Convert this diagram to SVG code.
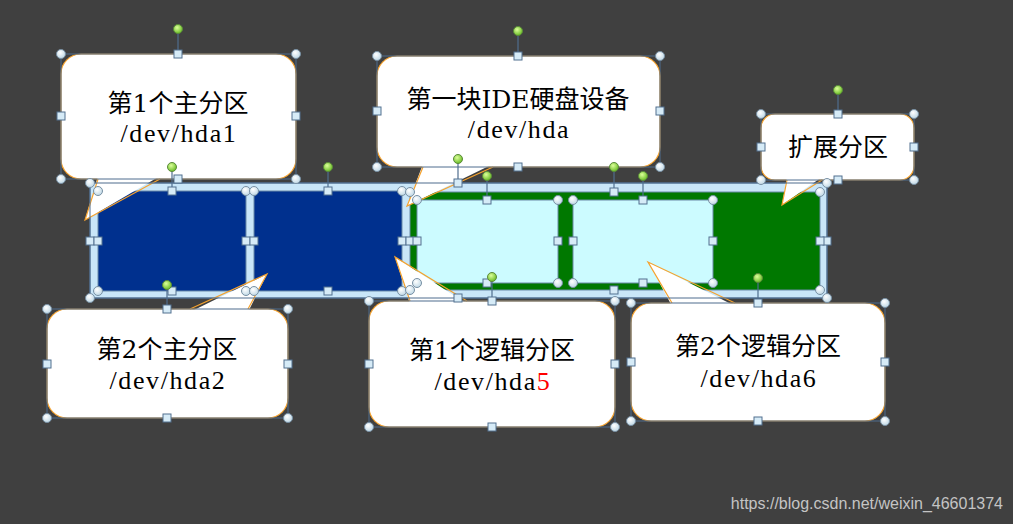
<svg xmlns="http://www.w3.org/2000/svg" width="1013" height="524" viewBox="0 0 1013 524">
<style>
.cb{fill:#fff;stroke:#f5a22e;stroke-width:1.2}
.pf{fill:#fff;stroke:none}
.ps{fill:none;stroke:#f5a22e;stroke-width:1.2;stroke-linejoin:miter}
.sel{fill:none;stroke:#4f6d8e;stroke-width:1}
.stem{stroke:#4f6d8e;stroke-width:1.2}
.t1{font-family:"DejaVu Serif","Noto Sans CJK SC",serif;font-size:25px;fill:#000;text-anchor:middle}
.t2{font-family:"Liberation Serif","Noto Sans CJK SC",serif;font-size:26px;fill:#000;text-anchor:middle;letter-spacing:1.6px}
.wm{font-family:"Liberation Sans",Arial,sans-serif;font-size:16px;fill:#c4c4c4;text-anchor:end}
</style>
<defs>
<radialGradient id="gc" cx="40%" cy="35%" r="70%"><stop offset="0" stop-color="#ffffff"/><stop offset="1" stop-color="#bcd6e4"/></radialGradient>
<radialGradient id="gg" cx="40%" cy="35%" r="70%"><stop offset="0" stop-color="#dcff9a"/><stop offset="1" stop-color="#62b81e"/></radialGradient>
<circle id="hc" r="4.5" fill="url(#gc)" stroke="#7890a4" stroke-width="1"/>
<rect id="hs" x="-4" y="-4" width="8" height="8" fill="#d6ebf7" stroke="#52718f" stroke-width="1"/>
<circle id="hg" r="4.5" fill="url(#gg)" stroke="#5a8a3a" stroke-width="1"/>
</defs>
<rect x="0" y="0" width="1013" height="524" fill="#404040"/>

<g id="disk-bar">
<rect x="90" y="183" width="737" height="115" fill="#c9e6f8" stroke="#5b7b9b" stroke-width="1"/>
<rect id="primary1" x="98" y="191" width="148" height="100" fill="#00308e" stroke="#6a8aa8" stroke-width="1"/>
<rect id="primary2" x="254" y="191" width="148" height="100" fill="#00308e" stroke="#6a8aa8" stroke-width="1"/>
<rect id="extended" x="410" y="192" width="410" height="98" fill="#007800" stroke="#6a8aa8" stroke-width="1"/>
<rect id="logical1" x="417" y="200" width="141" height="83" fill="#ccfbff" stroke="#6a8aa8" stroke-width="1"/>
<rect id="logical2" x="573" y="200" width="140" height="83" fill="#ccfbff" stroke="#6a8aa8" stroke-width="1"/>
</g>

<g id="connectors"></g>

<g id="callout-hda1">
<rect class="cb" x="61" y="54" width="235" height="125" rx="20"/>
<polygon class="pf" points="98,176 160,176 85,220"/>
<polyline class="ps" points="98,179 85,220 160,179"/>
<text class="t1" x="178" y="112">第1个主分区</text>
<text class="t2" x="179" y="142">/dev/hda1</text>
</g>

<g id="callout-hda">
<rect class="cb" x="377" y="56" width="283" height="111" rx="20"/>
<polygon class="pf" points="423,164 493,164 407,206"/>
<polyline class="ps" points="423,167 407,206 493,167"/>
<text class="t1" x="518" y="108">第一块IDE硬盘设备</text>
<text class="t2" x="519" y="138">/dev/hda</text>
</g>

<g id="callout-extended">
<rect class="cb" x="761" y="114" width="153" height="66" rx="14"/>
<polygon class="pf" points="787,177 822,177 782,205"/>
<polyline class="ps" points="787,180 782,205 822,180"/>
<text class="t1" x="838" y="156">扩展分区</text>
</g>

<g id="callout-hda2">
<rect class="cb" x="47" y="309" width="241" height="109" rx="20"/>
<polygon class="pf" points="190,312 248,312 267,274"/>
<polyline class="ps" points="190,309 267,274 248,309"/>
<text class="t1" x="167" y="358">第2个主分区</text>
<text class="t2" x="168" y="389">/dev/hda2</text>
</g>

<g id="callout-hda5">
<rect class="cb" x="369" y="301" width="246" height="126" rx="20"/>
<polygon class="pf" points="410,304 467,304 395,257"/>
<polyline class="ps" points="410,301 395,257 467,301"/>
<text class="t1" x="492" y="359">第1个逻辑分区</text>
<text class="t2" x="493" y="390">/dev/hda<tspan fill="#ff0000">5</tspan></text>
</g>

<g id="callout-hda6">
<rect class="cb" x="631" y="303" width="254" height="118" rx="20"/>
<polygon class="pf" points="672,306 735,306 648,262"/>
<polyline class="ps" points="672,303 648,262 735,303"/>
<text class="t1" x="758" y="355">第2个逻辑分区</text>
<text class="t2" x="759" y="387">/dev/hda6</text>
</g>

<g id="selection-handles">
<rect class="sel" x="61" y="54" width="235" height="125"/>
<rect class="sel" x="377" y="56" width="283" height="111"/>
<rect class="sel" x="761" y="114" width="153" height="66"/>
<rect class="sel" x="47" y="309" width="241" height="109"/>
<rect class="sel" x="369" y="301" width="246" height="126"/>
<rect class="sel" x="631" y="303" width="254" height="118"/>
<rect class="sel" x="90" y="183" width="737" height="115"/>
<line class="stem" x1="178" y1="29" x2="178" y2="54"/>
<line class="stem" x1="518" y1="31" x2="518" y2="56"/>
<line class="stem" x1="838" y1="90" x2="838" y2="114"/>
<line class="stem" x1="167" y1="285" x2="167" y2="309"/>
<line class="stem" x1="492" y1="277" x2="492" y2="301"/>
<line class="stem" x1="758" y1="279" x2="758" y2="303"/>
<line class="stem" x1="458" y1="159" x2="458" y2="183"/>
<line class="stem" x1="172" y1="167" x2="172" y2="191"/>
<line class="stem" x1="328" y1="167" x2="328" y2="191"/>
<line class="stem" x1="614" y1="167" x2="614" y2="192"/>
<line class="stem" x1="487" y1="176" x2="487" y2="200"/>
<line class="stem" x1="643" y1="176" x2="643" y2="200"/>
<use href="#hc" x="90" y="183"/><use href="#hc" x="827" y="183"/><use href="#hc" x="90" y="298"/><use href="#hc" x="827" y="298"/>
<use href="#hs" x="458" y="183"/><use href="#hs" x="458" y="298"/><use href="#hs" x="90" y="241"/><use href="#hs" x="827" y="241"/>
<use href="#hc" x="98" y="191"/><use href="#hc" x="246" y="191"/><use href="#hc" x="98" y="291"/><use href="#hc" x="246" y="291"/>
<use href="#hs" x="172" y="191"/><use href="#hs" x="172" y="291"/><use href="#hs" x="98" y="241"/><use href="#hs" x="246" y="241"/>
<use href="#hc" x="254" y="191"/><use href="#hc" x="402" y="191"/><use href="#hc" x="254" y="291"/><use href="#hc" x="402" y="291"/>
<use href="#hs" x="328" y="191"/><use href="#hs" x="328" y="291"/><use href="#hs" x="254" y="241"/><use href="#hs" x="402" y="241"/>
<use href="#hc" x="410" y="192"/><use href="#hc" x="820" y="192"/><use href="#hc" x="410" y="290"/><use href="#hc" x="820" y="290"/>
<use href="#hs" x="614" y="192"/><use href="#hs" x="614" y="290"/><use href="#hs" x="410" y="241"/><use href="#hs" x="820" y="241"/>
<use href="#hc" x="417" y="200"/><use href="#hc" x="558" y="200"/><use href="#hc" x="417" y="283"/><use href="#hc" x="558" y="283"/>
<use href="#hs" x="487" y="200"/><use href="#hs" x="487" y="283"/><use href="#hs" x="417" y="241"/><use href="#hs" x="558" y="241"/>
<use href="#hc" x="573" y="200"/><use href="#hc" x="713" y="200"/><use href="#hc" x="573" y="283"/><use href="#hc" x="713" y="283"/>
<use href="#hs" x="643" y="200"/><use href="#hs" x="643" y="283"/><use href="#hs" x="573" y="241"/><use href="#hs" x="713" y="241"/>
<use href="#hc" x="61" y="54"/><use href="#hc" x="296" y="54"/><use href="#hc" x="61" y="179"/><use href="#hc" x="296" y="179"/>
<use href="#hs" x="178" y="54"/><use href="#hs" x="178" y="179"/><use href="#hs" x="61" y="116"/><use href="#hs" x="296" y="116"/>
<use href="#hc" x="377" y="56"/><use href="#hc" x="660" y="56"/><use href="#hc" x="377" y="167"/><use href="#hc" x="660" y="167"/>
<use href="#hs" x="518" y="56"/><use href="#hs" x="518" y="167"/><use href="#hs" x="377" y="111"/><use href="#hs" x="660" y="111"/>
<use href="#hc" x="761" y="114"/><use href="#hc" x="914" y="114"/><use href="#hc" x="761" y="180"/><use href="#hc" x="914" y="180"/>
<use href="#hs" x="838" y="114"/><use href="#hs" x="838" y="180"/><use href="#hs" x="761" y="147"/><use href="#hs" x="914" y="147"/>
<use href="#hc" x="47" y="309"/><use href="#hc" x="288" y="309"/><use href="#hc" x="47" y="418"/><use href="#hc" x="288" y="418"/>
<use href="#hs" x="167" y="309"/><use href="#hs" x="167" y="418"/><use href="#hs" x="47" y="364"/><use href="#hs" x="288" y="364"/>
<use href="#hc" x="369" y="301"/><use href="#hc" x="615" y="301"/><use href="#hc" x="369" y="427"/><use href="#hc" x="615" y="427"/>
<use href="#hs" x="492" y="301"/><use href="#hs" x="492" y="427"/><use href="#hs" x="369" y="364"/><use href="#hs" x="615" y="364"/>
<use href="#hc" x="631" y="303"/><use href="#hc" x="885" y="303"/><use href="#hc" x="631" y="421"/><use href="#hc" x="885" y="421"/>
<use href="#hs" x="758" y="303"/><use href="#hs" x="758" y="421"/><use href="#hs" x="631" y="362"/><use href="#hs" x="885" y="362"/>
<use href="#hg" x="178" y="29"/><use href="#hg" x="518" y="31"/><use href="#hg" x="838" y="90"/>
<use href="#hg" x="167" y="285"/><use href="#hg" x="492" y="277"/><use href="#hg" x="758" y="278"/>
<use href="#hg" x="458" y="159"/><use href="#hg" x="172" y="167"/><use href="#hg" x="328" y="167"/>
<use href="#hg" x="614" y="167"/><use href="#hg" x="487" y="176"/><use href="#hg" x="643" y="176"/>
</g>

<text class="wm" x="1003" y="509">https://blog.csdn.net/weixin_46601374</text>
</svg>
